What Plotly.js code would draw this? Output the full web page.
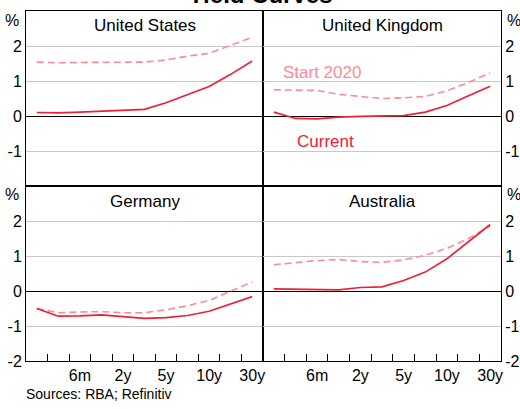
<!DOCTYPE html>
<html><head><meta charset="utf-8">
<script src="https://cdn.plot.ly/plotly-3.0.1.min.js"></script>
<style>html,body{margin:0;padding:0;background:#fff}</style>
</head><body><div id="chart" style="width:520px;height:409px"></div>
<script>
// ---- data ----
const maturities = ['1m','3m','6m','1y','2y','3y','5y','7y','10y','20y','30y'];
const tickLabels = ['', '', '6m', '', '2y', '', '5y', '', '10y', '', '30y'];
const panelNames = ['United States', 'United Kingdom', 'Germany', 'Australia'];
const usCurrent = [0.10, 0.09, 0.11, 0.14, 0.17, 0.19, 0.38, 0.60, 0.84, 1.19, 1.57];
const usStart2020 = [1.54, 1.52, 1.53, 1.53, 1.53, 1.54, 1.60, 1.71, 1.79, 2.01, 2.25];
const ukCurrent = [0.11, -0.07, -0.08, -0.03, -0.01, -0.01, 0.01, 0.11, 0.30, 0.58, 0.85];
const ukStart2020 = [0.75, 0.74, 0.73, 0.62, 0.55, 0.50, 0.52, 0.56, 0.72, 0.96, 1.23];
const deCurrent = [-0.50, -0.72, -0.71, -0.68, -0.73, -0.78, -0.76, -0.70, -0.58, -0.37, -0.16];
const deStart2020 = [-0.50, -0.62, -0.60, -0.59, -0.62, -0.62, -0.54, -0.42, -0.27, -0.01, 0.26];
const auCurrent = [0.06, 0.05, 0.04, 0.03, 0.10, 0.12, 0.30, 0.54, 0.92, 1.40, 1.90];
const auStart2020 = [0.75, 0.82, 0.87, 0.90, 0.84, 0.82, 0.89, 1.02, 1.22, 1.50, 1.86];
const topTicks = [-1, 0, 1, 2];
const topTickText = ['-1', '0', '1', '2'];
const bottomTicks = [-2, -1, 0, 1, 2];
const bottomTickText = ['-2', '-1', '0', '1', '2'];

// ---- style ----
const W = 520, H = 409;
const FONT = 'Arial, "Liberation Sans", sans-serif';
const RED = '#ee2035';
const PINK = '#ff8a93';
const px = x => x / W;
const py = y => 1 - y / H;

const series = [
  [usCurrent, usStart2020],
  [ukCurrent, ukStart2020],
  [deCurrent, deStart2020],
  [auCurrent, auStart2020]
];
const data = [];
series.forEach((pair, i) => {
  const sfx = i === 0 ? '' : String(i + 1);
  data.push({x: maturities, y: pair[1], type: 'scatter', mode: 'lines',
    line: {color: PINK, width: 1.6, dash: '7px,4px'}, xaxis: 'x' + sfx, yaxis: 'y' + sfx,
    showlegend: false, hoverinfo: 'skip'});
  data.push({x: maturities, y: pair[0], type: 'scatter', mode: 'lines',
    line: {color: RED, width: 1.7}, xaxis: 'x' + sfx, yaxis: 'y' + sfx,
    showlegend: false, hoverinfo: 'skip'});
});

const xDom = [[px(26), px(263)], [px(263), px(501)]];
const yDom = [[py(186), py(11)], [py(361), py(186)]];

function xAxis(col, row, anchor) {
  const bottom = row === 1;
  return {
    type: 'category', domain: xDom[col], anchor: anchor, range: [-0.5, 10.5],
    showline: true, mirror: true, linecolor: '#000', linewidth: 1,
    showgrid: false, zeroline: false, fixedrange: true,
    ticks: bottom ? 'inside' : '', tickson: 'boundaries', ticklen: 7, tickcolor: '#000',
    tickmode: 'array', tickvals: maturities, ticktext: tickLabels, tickangle: 0,
    showticklabels: bottom, tickfont: {family: FONT, size: 16, color: '#000'}
  };
}
function yAxis(col, row, anchor) {
  return {
    domain: yDom[row], anchor: anchor, range: [-2, 3], side: col === 0 ? 'left' : 'right',
    showline: true, mirror: true, linecolor: '#000', linewidth: 1,
    showgrid: true, gridcolor: '#c8c8c8', gridwidth: 1,
    zeroline: true, zerolinecolor: '#000', zerolinewidth: 1,
    ticks: '', tickmode: 'array',
    tickvals: row === 0 ? topTicks : bottomTicks,
    ticktext: row === 0 ? topTickText : bottomTickText,
    tickfont: {family: FONT, size: 16, color: '#000'}, fixedrange: true
  };
}

const annotations = [];
function ann(text, x, y, opts) {
  annotations.push(Object.assign({text: text, x: x, y: y, xref: 'paper', yref: 'paper',
    showarrow: false, xanchor: 'center', yanchor: 'middle',
    font: {family: FONT, size: 17, color: '#000'}}, opts || {}));
}
ann('<b>Yield Curves</b>', 0.5, py(10), {yanchor: 'bottom', font: {family: FONT, size: 24, color: '#000'}});
ann(panelNames[0], px(144.5), py(26));
ann(panelNames[1], px(382), py(26));
ann(panelNames[2], px(144.5), py(201));
ann(panelNames[3], px(382), py(201));
ann('%', px(21), py(20), {xanchor: 'right', font: {family: FONT, size: 16, color: '#000'}});
ann('%', px(21), py(195), {xanchor: 'right', font: {family: FONT, size: 16, color: '#000'}});
ann('%', px(505), py(20), {xanchor: 'left', font: {family: FONT, size: 16, color: '#000'}});
ann('%', px(505), py(195), {xanchor: 'left', font: {family: FONT, size: 16, color: '#000'}});
ann('Start 2020', px(322), py(72), {font: {family: FONT, size: 17, color: PINK}});
ann('Current', px(325.5), py(142), {font: {family: FONT, size: 17, color: RED}});
ann('Sources: RBA; Refinitiv', px(24), py(394), {xanchor: 'left', font: {family: FONT, size: 14, color: '#000'}});

const layout = {
  width: W, height: H, margin: {l: 0, r: 0, t: 0, b: 0},
  paper_bgcolor: '#fff', plot_bgcolor: '#fff', showlegend: false,
  font: {family: FONT, color: '#000'},
  xaxis: xAxis(0, 0, 'y'), yaxis: yAxis(0, 0, 'x'),
  xaxis2: xAxis(1, 0, 'y2'), yaxis2: yAxis(1, 0, 'x2'),
  xaxis3: xAxis(0, 1, 'y3'), yaxis3: yAxis(0, 1, 'x3'),
  xaxis4: xAxis(1, 1, 'y4'), yaxis4: yAxis(1, 1, 'x4'),
  annotations: annotations
};
Plotly.newPlot('chart', data, layout, {displayModeBar: false, staticPlot: true});
</script></body></html>
